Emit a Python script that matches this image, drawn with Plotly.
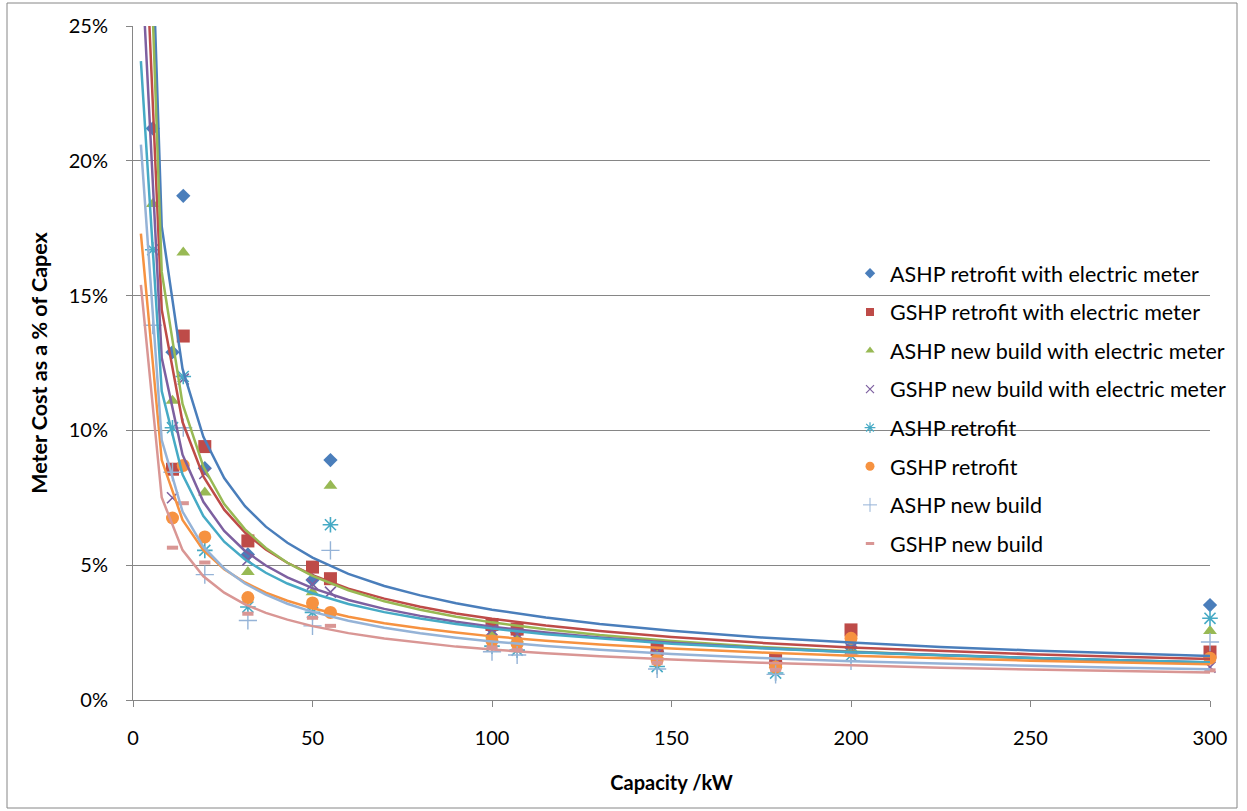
import plotly.graph_objects as go

# ---------------- data ----------------
capacity_kw = [5.5, 11, 14, 20, 32, 50, 55, 100, 107, 146, 179, 200, 300]

ashp_retrofit_meter = [21.2, 12.9, 18.7, 8.6, 5.4, 4.45, 8.9, 2.65, 2.5, 1.8, 1.4, 1.95, 3.52]
gshp_retrofit_meter = [None, 8.56, 13.5, 9.4, 5.9, 4.93, 4.5, 2.8, 2.63, 1.88, 1.52, 2.6, 1.78]
ashp_newbuild_meter = [18.4, 11.1, 16.6, 7.7, 4.75, 4.0, 7.95, 2.4, 2.25, 1.65, 1.3, 1.8, 2.56]
gshp_newbuild_meter = [None, 7.5, 11.9, 8.4, 5.2, 4.3, 4.0, 2.6, 2.45, 1.75, 1.4, 1.9, 1.22]
ashp_retrofit = [16.7, 10.1, 12.0, 5.55, 3.45, 3.25, 6.5, 2.0, 1.85, 1.24, 1.0, 1.65, 3.03]
gshp_retrofit = [None, 6.75, 8.7, 6.05, 3.8, 3.6, 3.25, 2.19, 2.08, 1.48, 1.22, 2.29, 1.55]
ashp_newbuild = [13.9, 8.45, 10.1, 4.65, 2.95, 2.75, 5.55, 1.79, 1.67, 1.15, 0.95, 1.45, 2.15]
gshp_newbuild = [None, 5.65, 7.3, 5.1, 3.2, 3.05, 2.75, 1.95, 1.85, 1.38, 1.12, 1.7, 1.1]

# trendline samples (Capacity kW -> % of capex)
trend_x = [2.2, 8, 13.8, 19.6, 25.4, 31.2, 37, 43, 50, 60, 70, 80, 90, 100,
           115, 130, 150, 175, 200, 225, 250, 275, 300]
trend_ashp_retrofit_meter = [41.0, 17.57, 12.28, 9.76, 8.23, 7.19, 6.43, 5.83, 5.28, 4.68, 4.23, 3.88,
                             3.59, 3.35, 3.06, 2.82, 2.57, 2.32, 2.13, 1.97, 1.84, 1.73, 1.63]
trend_gshp_retrofit_meter = [32.31, 14.48, 10.31, 8.29, 7.06, 6.21, 5.58, 5.09, 4.63, 4.13, 3.76, 3.46,
                             3.21, 3.01, 2.76, 2.56, 2.34, 2.12, 1.95, 1.82, 1.70, 1.60, 1.52]
trend_ashp_newbuild_meter = [38.0, 15.88, 10.98, 8.66, 7.27, 6.33, 5.64, 5.09, 4.6, 4.07, 3.66, 3.35,
                             3.09, 2.88, 2.62, 2.41, 2.19, 1.97, 1.80, 1.66, 1.55, 1.45, 1.37]
trend_gshp_newbuild_meter = [27.9, 12.69, 9.10, 7.35, 6.27, 5.53, 4.99, 4.55, 4.15, 3.71, 3.38, 3.12,
                             2.90, 2.72, 2.50, 2.32, 2.12, 1.93, 1.78, 1.66, 1.56, 1.47, 1.39]
trend_ashp_retrofit = [23.7, 11.46, 8.36, 6.82, 5.87, 5.21, 4.72, 4.32, 3.96, 3.56, 3.26, 3.02,
                       2.82, 2.65, 2.44, 2.28, 2.09, 1.92, 1.77, 1.66, 1.56, 1.47, 1.40]
trend_gshp_retrofit = [17.3, 8.90, 6.68, 5.56, 4.85, 4.36, 3.98, 3.68, 3.4, 3.09, 2.85, 2.66,
                       2.50, 2.36, 2.20, 2.06, 1.91, 1.76, 1.64, 1.54, 1.46, 1.39, 1.33]
trend_ashp_newbuild = [20.6, 9.64, 6.99, 5.68, 4.88, 4.32, 3.91, 3.57, 3.27, 2.94, 2.68, 2.48,
                       2.31, 2.17, 2.00, 1.86, 1.71, 1.56, 1.44, 1.35, 1.27, 1.20, 1.14]
trend_gshp_newbuild = [15.4, 7.51, 5.56, 4.59, 3.98, 3.55, 3.23, 2.98, 2.74, 2.48, 2.28, 2.12,
                       1.98, 1.87, 1.73, 1.62, 1.50, 1.38, 1.28, 1.20, 1.13, 1.07, 1.02]

series_names = [
    "ASHP retrofit with electric meter",
    "GSHP retrofit with electric meter",
    "ASHP new build with electric meter",
    "GSHP new build with electric meter",
    "ASHP retrofit",
    "GSHP retrofit",
    "ASHP new build",
    "GSHP new build",
]
x_ticks = [0, 50, 100, 150, 200, 250, 300]
y_ticks = [0, 5, 10, 15, 20, 25]

# ---------------- styling ----------------
values = [ashp_retrofit_meter, gshp_retrofit_meter, ashp_newbuild_meter, gshp_newbuild_meter,
          ashp_retrofit, gshp_retrofit, ashp_newbuild, gshp_newbuild]
trends = [trend_ashp_retrofit_meter, trend_gshp_retrofit_meter, trend_ashp_newbuild_meter,
          trend_gshp_newbuild_meter, trend_ashp_retrofit, trend_gshp_retrofit,
          trend_ashp_newbuild, trend_gshp_newbuild]
colors = ["#4A7EBB", "#BE4B48", "#98B954", "#7D60A0", "#46AAC5", "#F69240", "#95B3D7", "#D99694"]
symbols = ["diamond", "square", "triangle-up", "x-thin-open", "asterisk-open",
           "circle", "cross-thin-open", "line-ew-open"]
sizes = [11, 13, 12, 11, 13, 13, 13, 8]
lwidths = [0, 0, 0, 1.6, 1.6, 0, 1.4, 4]
leg_sizes = [8, 8, 8, 8, 9, 9, 10, 6]
leg_lw = [0, 0, 0, 1.2, 1.2, 0, 1.0, 3]

FONT = "Lato, 'Open Sans', sans-serif"
fig = go.Figure()

# markers
for i in range(8):
    fig.add_trace(go.Scatter(
        x=capacity_kw, y=values[i], mode="markers", name=series_names[i],
        showlegend=False, cliponaxis=False,
        marker=dict(symbol=symbols[i], size=sizes[i], color=colors[i],
                    line=dict(color=colors[i], width=lwidths[i])),
    ))

# trendlines
for i in range(8):
    fig.add_trace(go.Scatter(
        x=trend_x, y=trends[i], mode="lines", name=series_names[i] + " trend",
        showlegend=False, hoverinfo="skip",
        line=dict(color=colors[i], width=2.5),
    ))

# legend entries (one legend box per entry to match the spacing)
leg_top = 273.3
leg_step = 38.6
legend_layout = {}
for i in range(8):
    key = "legend" if i == 0 else f"legend{i + 1}"
    fig.add_trace(go.Scatter(
        x=[None], y=[None], mode="markers", name=series_names[i], legend=key,
        marker=dict(symbol=symbols[i], size=leg_sizes[i], color=colors[i],
                    line=dict(color=colors[i], width=leg_lw[i])),
    ))
    py = leg_top + i * leg_step
    legend_layout[key] = dict(
        x=(850 - 133) / 1077, xanchor="left",
        y=(700 - py) / 674, yanchor="middle",
        bgcolor="rgba(0,0,0,0)", borderwidth=0,
        font=dict(family=FONT, size=21.5, color="black"),
    )

fig.update_layout(
    width=1247, height=811,
    margin=dict(l=133, r=37, t=26, b=111),
    paper_bgcolor="white", plot_bgcolor="white",
    font=dict(family=FONT, color="black"),
    **legend_layout,
    shapes=[dict(type="rect", xref="paper", yref="paper",
                 x0=(7 - 133) / 1077, x1=(1237 - 133) / 1077,
                 y0=(700 - 808) / 674, y1=(700 - 3) / 674,
                 line=dict(color="#868686", width=1), fillcolor="rgba(0,0,0,0)",
                 layer="below")],
)

fig.update_xaxes(
    range=[0, 300], tickvals=x_ticks, ticktext=[str(v) for v in x_ticks],
    showgrid=False, zeroline=False,
    showline=True, linecolor="#868686", linewidth=1,
    ticks="outside", ticklen=6, tickcolor="#868686",
    tickfont=dict(family=FONT, size=20, color="black"),
    ticklabelstandoff=14,
    title=dict(text="<b>Capacity /kW</b>", font=dict(family=FONT, size=20, color="black"),
               standoff=27),
)
fig.update_yaxes(
    range=[0, 25], tickvals=y_ticks, ticktext=[f"{v}%" for v in y_ticks],
    showgrid=True, gridcolor="#868686", gridwidth=1, zeroline=False,
    showline=True, linecolor="#868686", linewidth=1,
    ticks="outside", ticklen=6, tickcolor="#868686",
    tickfont=dict(family=FONT, size=20, color="black"),
    ticklabelstandoff=14,
    title=dict(text="<b>Meter Cost as a % of Capex</b>", font=dict(family=FONT, size=21.5, color="black"),
               standoff=15),
)

fig.write_html("out.html")
